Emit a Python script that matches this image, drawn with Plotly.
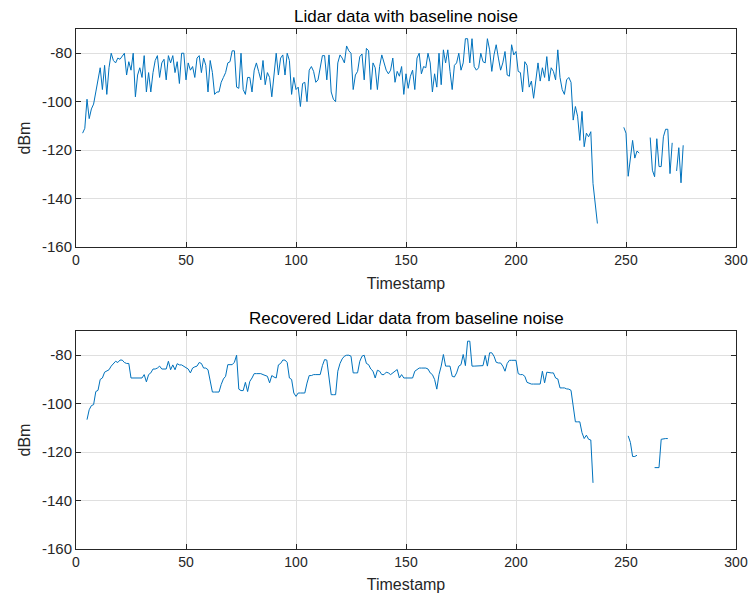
import plotly.graph_objects as go

# ---------------- data ----------------
# Top panel: raw lidar data (segments: start timestamp + consecutive values)
top_seg1_start = 3
top_seg1 = [-113, -111, -99, -107, -103, -101, -96, -91, -86, -95, -85, -97, -86, -80, -83, -84, -82, -82.5,
            -81, -80, -89, -83.5, -87, -80, -98, -89, -86, -90, -81, -96, -88, -96, -88, -83, -81, -90, -84,
            -82.5, -91, -81, -84, -81, -88, -83.5, -92.5, -80, -80, -91, -84, -87, -85.5, -90, -82, -81, -88,
            -82, -85, -96, -83, -88, -97, -96, -96, -92, -90, -88, -84, -83.5, -79, -79, -94, -94.5, -80, -95,
            -97, -90, -90, -96, -87, -84, -87.5, -91, -83, -93, -88, -90, -98, -88.5, -80, -89, -82, -80.7, -89,
            -80, -83, -97, -90, -95, -94, -102, -92.5, -92, -100, -87, -85.5, -87.5, -92, -91, -86, -81, -81,
            -91, -80.7, -96, -99, -100, -84, -80.7, -82, -84, -77, -79, -80, -95, -89, -87.5, -81.4, -80.3, -91,
            -78, -79, -95, -84, -86, -95, -85.5, -80.7, -84, -87, -88.5, -87, -82, -92, -87.5, -89.5, -85.5,
            -97, -88.5, -94.5, -89.5, -87, -95, -82, -80, -88.5, -85.5, -86, -80, -84, -96, -88.5, -94, -80,
            -93, -78.6, -84, -78.6, -87.5, -95, -85, -84, -80, -87, -84, -74, -74, -84, -74, -85.5, -87, -86,
            -80, -83.5, -84, -74, -78.6, -87.5, -80.7, -76.5, -82, -87, -84, -79.3, -89, -89.5, -76.5, -80.7,
            -79.3, -87.5, -88, -96, -83.5, -85, -94, -91.5, -98.6, -91.5, -84, -91.5, -86, -90, -81.4, -91.5,
            -86, -87.5, -91, -78.6, -90, -95, -97, -91, -90, -92, -107.6, -102, -106, -116, -104, -118.6, -113,
            -114.5, -112.4, -133.8, -142, -150.3]
top_seg2_start = 249
top_seg2 = [-110.6, -113, -130.8, -122.9, -116, -123.3, -120.4, -121.2]
top_seg3_start = 261
top_seg3 = [-114.8, -128.3, -131, -115.3, -126.8, -126.8, -114.5, -111.4, -111.4, -129.7, -117]
top_seg4_start = 273
top_seg4 = [-128.6, -119, -133.5, -118]

# Bottom panel: recovered lidar data
bot_seg1_start = 5
bot_seg1 = [-106.6, -102.5, -100.8, -100.4, -95, -94.5, -90, -89.4, -87, -86.6, -86, -84.5, -83.5, -82.5, -83,
            -82, -82, -83, -83.4, -83.4, -89.4, -89.4, -89.4, -89.4, -89.4, -89.4, -88, -91, -88, -87.3, -85.7,
            -85.7, -85.3, -84.5, -85.7, -85.7, -85.7, -82.5, -86, -84, -86, -83.5, -84, -84, -84.5, -85.3,
            -85.7, -87.3, -85.3, -84.8, -84.5, -83, -83.4, -85.3, -85.3, -86, -90.8, -95.2, -95.2, -95.2, -95.2,
            -92.1, -89.8, -88.7, -83.9, -83.9, -83.9, -82.9, -80, -94, -94.6, -94.6, -91.2, -95, -90.8, -89.4,
            -87.6, -87.6, -87.6, -87.6, -88, -88.4, -88.7, -91.4, -88.4, -89, -89.4, -84, -83.4, -82, -82, -83,
            -89.4, -90, -95.6, -97, -95.6, -95.6, -95.6, -95.6, -91.5, -88.4, -88.4, -88, -88, -88, -88, -84.3,
            -81.8, -82, -88.7, -96.3, -96.3, -96.3, -86.6, -83.4, -81.5, -80.4, -80, -80, -80.4, -87.3, -87.3,
            -87.3, -82.5, -80.4, -80, -83.4, -83.9, -85.7, -86.6, -89.4, -86.2, -86.6, -88, -88, -87, -87.3,
            -88, -87.3, -86.6, -85.9, -89.4, -88, -89.4, -89.4, -89.4, -89.4, -89.4, -86.6, -85.9, -85.3, -85.3,
            -85.3, -85.3, -85.7, -87.3, -88, -90, -94, -88, -84.5, -79.7, -84.5, -84.5, -84.5, -88.7, -89,
            -87.3, -84.5, -83.9, -79.7, -84.3, -74.2, -74.2, -84.5, -84.5, -84.5, -84.5, -84.5, -84.3, -80.1,
            -84.5, -79, -79, -80.4, -82.9, -83.2, -83.2, -84.5, -86.6, -83.4, -82.1, -82.1, -82.1, -82.1, -87.6,
            -88, -88, -88.7, -91.2, -91.7, -91.9, -91.9, -91.9, -91.9, -91.9, -86.6, -91.4, -87, -87.3, -87.3,
            -87.3, -89.4, -89.8, -93.5, -93.5, -93.5, -93.9, -94, -94.5, -101, -107.5, -107.5, -107.5, -112,
            -114.4, -113, -114.7, -115, -132.7]
bot_seg2_start = 251
bot_seg2 = [-113.3, -116, -121.8, -121.8, -121.3]
bot_seg3_start = 263
bot_seg3 = [-126.4, -126.4, -126.4, -114.7, -114.4, -114.4, -114.4]

x_ticks = [0, 50, 100, 150, 200, 250, 300]
y_ticks = [-160, -140, -120, -100, -80]
y_ticktext = ["-160", "-140", "-120", "-100", "-80"]
titles = ["Lidar data with baseline noise", "Recovered Lidar data from baseline noise"]


def build(segments):
    xs, ys = [], []
    for start, vals in segments:
        if xs:
            xs.append(start - 1)
            ys.append(None)
        xs.extend(range(start, start + len(vals)))
        ys.extend(vals)
    return xs, ys


top_x, top_y = build([(top_seg1_start, top_seg1), (top_seg2_start, top_seg2),
                      (top_seg3_start, top_seg3), (top_seg4_start, top_seg4)])
bot_x, bot_y = build([(bot_seg1_start, bot_seg1), (bot_seg2_start, bot_seg2),
                      (bot_seg3_start, bot_seg3)])

# ---------------- figure ----------------
BLUE = "#0072BD"
FONT = "Liberation Sans, Arial, Helvetica, sans-serif"

fig = go.Figure()
fig.add_trace(go.Scatter(x=top_x, y=top_y, mode="lines", line=dict(color=BLUE, width=1),
                         connectgaps=False, xaxis="x", yaxis="y", showlegend=False))
fig.add_trace(go.Scatter(x=bot_x, y=bot_y, mode="lines", line=dict(color=BLUE, width=1),
                         connectgaps=False, xaxis="x2", yaxis="y2", showlegend=False))

axis_common = dict(showline=True, linecolor="#262626", linewidth=1, mirror="ticks",
                   ticks="inside", ticklen=5, tickcolor="#262626", automargin=False,
                   showgrid=True, gridcolor="#dfdfdf", gridwidth=1, zeroline=False)
xfont = dict(size=14, color="#262626", family=FONT)
yfont = dict(size=15, color="#262626", family=FONT)

h_top = 218 / 520
fig.update_layout(
    width=751, height=594,
    margin=dict(l=76, r=15, t=29, b=45),
    paper_bgcolor="white", plot_bgcolor="white",
    font=dict(family=FONT, color="#262626"),
    xaxis=dict(domain=[0, 1], range=[0, 300], tickvals=x_ticks, anchor="y", tickfont=xfont,
               title=dict(text="Timestamp", font=dict(size=16), standoff=11), **axis_common),
    yaxis=dict(domain=[1 - h_top, 1], range=[-160, -70], tickvals=y_ticks, ticktext=y_ticktext,
               anchor="x", tickfont=yfont,
               title=dict(text="dBm", font=dict(size=16), standoff=7), **axis_common),
    xaxis2=dict(domain=[0, 1], range=[0, 300], tickvals=x_ticks, anchor="y2", tickfont=xfont,
                title=dict(text="Timestamp", font=dict(size=16), standoff=10), **axis_common),
    yaxis2=dict(domain=[0, h_top], range=[-160, -70], tickvals=y_ticks, ticktext=y_ticktext,
                anchor="x2", tickfont=yfont,
                title=dict(text="dBm", font=dict(size=16), standoff=7), **axis_common),
    annotations=[
        dict(text=titles[0], x=0.5, y=1, xref="paper", yref="paper", xanchor="center",
             yanchor="bottom", yshift=1, showarrow=False, font=dict(size=17, color="black")),
        dict(text=titles[1], x=0.5, y=h_top, xref="paper", yref="paper", xanchor="center",
             yanchor="bottom", yshift=1, showarrow=False, font=dict(size=17, color="black")),
    ],
)

fig.write_html("out.html")
